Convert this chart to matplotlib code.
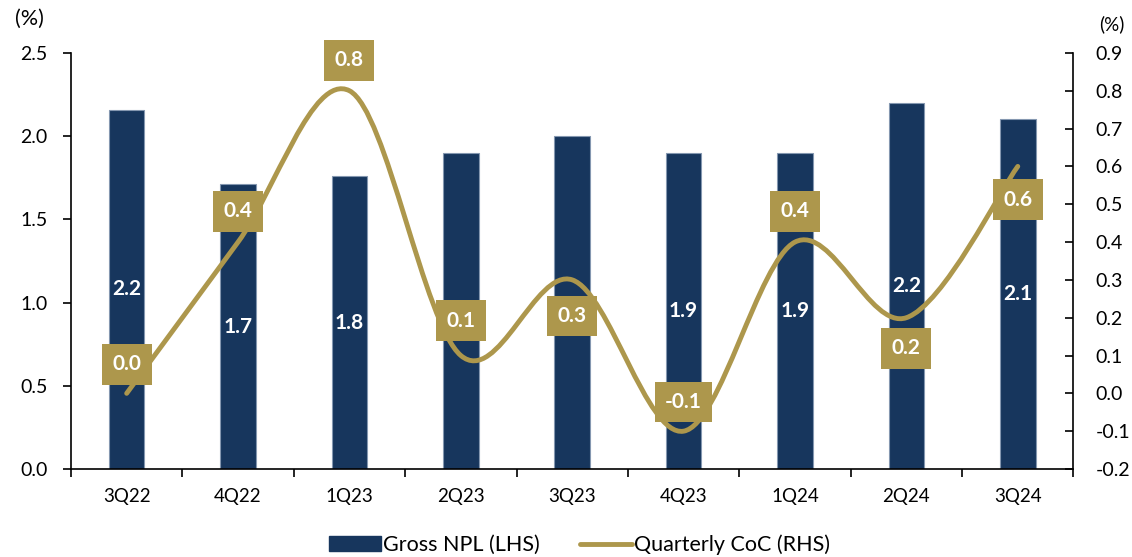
import numpy as np
import matplotlib.pyplot as plt
from matplotlib.path import Path
from matplotlib.patches import PathPatch, Patch
from matplotlib.lines import Line2D

plt.rcParams['font.family'] = ['Lato', 'DejaVu Sans']

quarters = ['3Q22', '4Q22', '1Q23', '2Q23', '3Q23', '4Q23', '1Q24', '2Q24', '3Q24']
gross_npl = [2.16, 1.71, 1.76, 1.90, 2.00, 1.90, 1.90, 2.20, 2.10]
# 2Q23 and 3Q23 NPL labels sit under the CoC boxes, so they are left out
npl_label_shown = [True, True, True, False, False, True, True, True, True]
quarterly_coc = [0.0, 0.4, 0.8, 0.1, 0.3, -0.1, 0.4, 0.2, 0.6]
# vertical offset (points) of each CoC label from its point, + above / - below
coc_label_offset = [21, 22, 22, 25, -26, 21, 22, -22, -24]

navy = '#17365d'
gold = '#ad974c'


# smoothed line through the points (cubic Bezier, Excel-style smoothing)
def smooth_path(x, y):
    x = np.asarray(x, float)
    y = np.asarray(y, float)
    n = len(x)
    verts = [(x[0], y[0])]
    codes = [Path.MOVETO]
    for i in range(n - 1):
        x0, y0 = (x[i - 1], y[i - 1]) if i > 0 else (x[i], y[i])
        x3, y3 = (x[i + 2], y[i + 2]) if i + 2 < n else (x[i + 1], y[i + 1])
        c1 = (x[i] + (x[i + 1] - x0) / 6, y[i] + (y[i + 1] - y0) / 6)
        c2 = (x[i + 1] - (x3 - x[i]) / 6, y[i + 1] - (y3 - y[i]) / 6)
        verts += [c1, c2, (x[i + 1], y[i + 1])]
        codes += [Path.CURVE4] * 3
    return Path(verts, codes)


fig = plt.figure(figsize=(11.32, 5.57), dpi=100)
ax = fig.add_axes([0.0627, 0.158, 0.8856, 0.747])
ax2 = ax.twinx()

xs = np.arange(len(quarters))
ax.bar(xs, gross_npl, width=0.32, color=navy, edgecolor='#8497b0', linewidth=0.8, zorder=2)
for x, v, shown in zip(xs, gross_npl, npl_label_shown):
    if shown:
        ax.text(x, v / 2, f'{v:.1f}', ha='center', va='center', color='white',
                fontsize=15, fontweight='bold', zorder=3)

ax.set_xlim(-0.5, len(quarters) - 0.5)
ax.set_ylim(0, 2.5)
ax.set_yticks(np.arange(0, 2.51, 0.5))
ax.set_yticklabels([f'{t:.1f}' for t in np.arange(0, 2.51, 0.5)])
ax.set_xticks(xs)
ax.set_xticklabels(quarters)
ax.set_xticks(np.arange(-0.5, len(quarters), 1), minor=True)
ax.tick_params(axis='x', which='major', length=0, pad=14, labelsize=13.5)
ax.tick_params(axis='x', which='minor', length=6, width=1.2, direction='out')
ax.tick_params(axis='y', length=6, width=1.2, direction='out', labelsize=14, pad=11)
for s in ['top', 'right']:
    ax.spines[s].set_visible(False)
ax.spines['left'].set_linewidth(1.2)
ax.spines['bottom'].set_linewidth(1.2)

ax2.set_ylim(-0.2, 0.9)
ticks2 = np.arange(-0.2, 0.91, 0.1)
ax2.set_yticks(ticks2)
ax2.set_yticklabels([f'{t:.1f}' if abs(t) > 1e-9 else '0.0' for t in ticks2])
ax2.tick_params(axis='y', length=6, width=1.2, direction='in', labelsize=14, pad=16)
for s in ['top', 'left', 'bottom']:
    ax2.spines[s].set_visible(False)
ax2.spines['right'].set_linewidth(1.2)

ax2.add_patch(PathPatch(smooth_path(xs, quarterly_coc), facecolor='none', edgecolor=gold,
                        linewidth=3.5, capstyle='round', zorder=4))
for x, v, off in zip(xs, quarterly_coc, coc_label_offset):
    ax2.annotate(f'{v:.1f}', (x, v), xytext=(0, off), textcoords='offset points',
                 ha='center', va='center', color='white', fontsize=15, fontweight='bold',
                 bbox=dict(boxstyle='square,pad=0.5', fc=gold, ec='none'), zorder=5)

fig.text(0.026, 0.966, '(%)', fontsize=15.5, ha='center', va='center')
fig.text(0.982, 0.957, '(%)', fontsize=13.5, ha='center', va='center')

handles = [Patch(color=navy, label='Gross NPL (LHS)'),
           Line2D([0], [0], color=gold, lw=3.5, solid_capstyle='round', label='Quarterly CoC (RHS)')]
fig.legend(handles=handles, loc='center', bbox_to_anchor=(0.512, 0.022), ncol=2, frameon=False,
           fontsize=15.5, handlelength=2.4, handletextpad=0.1, columnspacing=1.85)

fig.savefig('out.png', dpi=100)
